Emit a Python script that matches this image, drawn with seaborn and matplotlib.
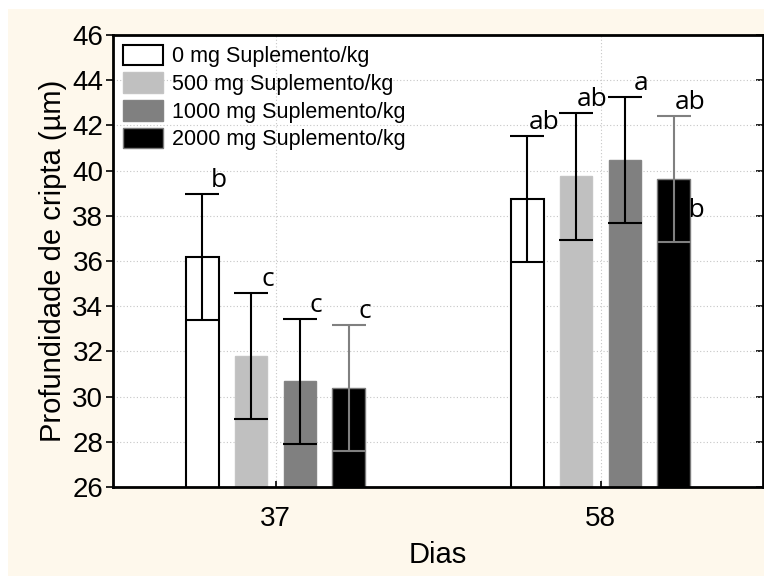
import numpy as np
import pandas as pd
import seaborn as sns
import matplotlib.pyplot as plt
from matplotlib.patches import Rectangle, Patch

# valores
dias = ['37', '58']
doses = ['0 mg Suplemento/kg', '500 mg Suplemento/kg',
         '1000 mg Suplemento/kg', '2000 mg Suplemento/kg']
media_37 = [36.17, 31.80, 30.67, 30.38]
media_58 = [38.74, 39.75, 40.48, 39.64]
erro_37 = [2.78, 2.78, 2.76, 2.79]
erro_58 = [2.79, 2.80, 2.78, 2.78]
letras_37 = ['b', 'c', 'c', 'c']
letras_58 = ['ab', 'ab', 'a', 'ab']

cores = ['#ffffff', '#c0c0c0', '#808080', '#000000']
bordas = ['#000000', '#c4c4c4', '#848484', '#7a7a7a']
cor_erro = ['black', 'black', 'black', '#808080']

df = pd.DataFrame({
    'Dias': [dias[0]] * 4 + [dias[1]] * 4,
    'Dose': doses * 2,
    'Profundidade': media_37 + media_58,
})

sns.set_theme(style='white')
plt.rcParams['font.family'] = ['Liberation Sans', 'DejaVu Sans']
plt.rcParams['text.color'] = 'black'
plt.rcParams['axes.labelcolor'] = 'black'
plt.rcParams['xtick.color'] = 'black'
plt.rcParams['ytick.color'] = 'black'

fig = plt.figure(figsize=(7.64, 5.76), dpi=100, facecolor='white')
fig.patches.append(Rectangle((8 / 764, 0), 1, 567 / 576, transform=fig.transFigure,
                             facecolor='#fef8ec', edgecolor='none', zorder=-10))
ax = fig.add_axes([113 / 764, 89 / 576, 650 / 764, 452 / 576])
ax.set_facecolor('white')

sns.barplot(data=df, x='Dias', y='Profundidade', hue='Dose', hue_order=doses,
            palette=cores, width=0.6, gap=0.33, errorbar=None, ax=ax,
            linewidth=1.5, zorder=2, legend=False)

barras = list(ax.containers)
for i, cont in enumerate(barras):
    for bar in cont:
        bar.set_edgecolor(bordas[i])
        bar.set_linewidth(1.5 if i == 0 else 1.0)

medias = [media_37, media_58]
erros = [erro_37, erro_58]
letras = [letras_37, letras_58]
fonte_letra = ['Open Sans', 'DejaVu Sans']
for i, cont in enumerate(barras):
    for j, bar in enumerate(cont):
        xc = bar.get_x() + bar.get_width() / 2
        xr = bar.get_x() + bar.get_width()
        m = medias[j][i]
        e = erros[j][i]
        ax.errorbar(xc, m, yerr=e, fmt='none', ecolor=cor_erro[i], elinewidth=1.5,
                    capsize=12, capthick=1.5, zorder=3)
        ax.text(xr, m + e + 0.05, letras[j][i], ha='center', va='bottom',
                fontsize=19, family=fonte_letra, color='black', zorder=4)

# rotulo extra sobre a barra preta do dia 58
bar = barras[3][1]
ax.text(bar.get_x() + bar.get_width(), 37.7, 'ab', ha='center', va='bottom',
        fontsize=19, family=fonte_letra, color='black', zorder=4)

ax.set_ylim(26, 46)
ax.set_yticks(np.arange(26, 47, 2))
ax.set_xlim(-0.5, 1.5)
ax.grid(True, linestyle=(0, (1, 2)), color='#c6c6c6', linewidth=0.8, zorder=0)
ax.set_axisbelow(True)

ax.set_xlabel('Dias', fontsize=21, labelpad=6)
ax.set_ylabel('Profundidade de cripta (µm)', fontsize=21, labelpad=4)
ax.tick_params(axis='y', labelsize=20, direction='out', length=5, width=1.2, left=True, pad=2)
ax.tick_params(axis='x', labelsize=20, direction='in', length=4, width=1.2, bottom=True, pad=14)
sec = ax.secondary_yaxis('right')
sec.set_yticks(np.arange(26, 47, 2))
sec.tick_params(direction='in', length=5, width=1.2, labelright=False)
sec.spines['right'].set_visible(False)

for s in ax.spines.values():
    s.set_linewidth(2)
    s.set_color('black')

handles = [Patch(facecolor=cores[i], edgecolor=bordas[i], linewidth=1.5 if i == 0 else 1.0)
           for i in range(4)]
ax.legend(handles, doses, loc='upper left', bbox_to_anchor=(0.0, 1.0), frameon=False,
          fontsize=15.5, handlelength=1.85, handleheight=1.1, labelspacing=0.23,
          handletextpad=0.42, borderaxespad=0.25, borderpad=0.2)

fig.savefig('out.png', dpi=100, facecolor=fig.get_facecolor())
